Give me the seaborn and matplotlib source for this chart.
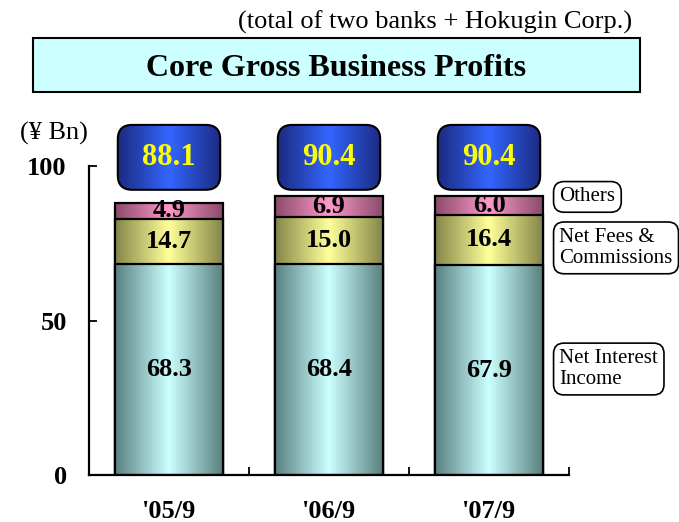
import numpy as np
import pandas as pd
import matplotlib.pyplot as plt
from matplotlib.colors import LinearSegmentedColormap
from matplotlib.patches import FancyBboxPatch, Rectangle
import seaborn as sns

# data (¥ Bn)
periods = ["'05/9", "'06/9", "'07/9"]
interest = [68.3, 68.4, 67.9]
fees = [14.7, 15.0, 16.4]
others = [4.9, 6.9, 6.0]
totals = [88.1, 90.4, 90.4]
series_names = ["Net Interest\nIncome", "Net Fees &\nCommissions", "Others"]

sns.set_style("ticks")
plt.rcParams["font.family"] = ["Liberation Serif", "DejaVu Serif"]
plt.rcParams["text.color"] = "black"
plt.rcParams["xtick.color"] = "black"
plt.rcParams["ytick.color"] = "black"

W, H = 679, 522
fig = plt.figure(figsize=(W / 100, H / 100), dpi=100)
ax = fig.add_axes([89 / W, 1 - 475 / H, 480 / W, 309 / H])

df = pd.DataFrame({"period": periods, "interest": interest, "fees": fees, "others": others})
df["lvl1"] = df["interest"]
df["lvl2"] = df["interest"] + df["fees"]
df["lvl3"] = df["lvl2"] + df["others"]

# (dark edge, light centre) for each segment
shades = {
    "lvl3": ("#8a4a6a", "#ff99cc"),
    "lvl2": ("#85854a", "#ffff99"),
    "lvl1": ("#5a8080", "#ccffff"),
}

grad = np.linspace(0, 1, 256).reshape(1, -1)
for k, col in enumerate(["lvl3", "lvl2", "lvl1"]):
    n0 = len(ax.patches)
    sns.barplot(data=df, x="period", y=col, color=shades[col][1], width=0.67,
                edgecolor="black", linewidth=1.6, ax=ax)
    cmap = LinearSegmentedColormap.from_list(col, [shades[col][0], shades[col][1], shades[col][0]])
    for p in ax.patches[n0:]:
        x0, y0, w, h = p.get_x(), p.get_y(), p.get_width(), p.get_height()
        im = ax.imshow(grad, cmap=cmap, extent=[x0, x0 + w, y0, y0 + h], aspect="auto",
                       interpolation="bicubic", zorder=2 + k)
        im.set_clip_path(p)
        p.set_facecolor("none")
        p.set_zorder(2.5 + k)

# segment values
for i in range(len(periods)):
    bottoms = [0, interest[i], interest[i] + fees[i]]
    for b, v in zip(bottoms, [interest[i], fees[i], others[i]]):
        ax.text(i, b + v / 2, f"{v:.1f}", ha="center", va="center", fontsize=19,
                fontweight="bold", zorder=10)

# total boxes
aspect = (160 / 1) / 3.09
bcmap = LinearSegmentedColormap.from_list("blue", ["#1c2a80", "#3366ff", "#1c2a80"])
for i, t in enumerate(totals):
    bx, by, bw, bh = i - 0.32, 92.3, 0.64, 21
    box = FancyBboxPatch((bx, by), bw, bh, boxstyle="round,pad=0,rounding_size=0.09",
                         mutation_aspect=aspect, facecolor="none", edgecolor="black",
                         linewidth=1.5, clip_on=False, zorder=12)
    ax.add_patch(box)
    im = ax.imshow(grad, cmap=bcmap, extent=[bx, bx + bw, by, by + bh], aspect="auto",
                   interpolation="bicubic", zorder=11)
    im.set_clip_box(fig.bbox)
    im.set_clip_path(box)
    ax.text(i, by + bh / 2, f"{t:.1f}", ha="center", va="center", fontsize=22,
            fontweight="bold", color="#ffff00", zorder=13, clip_on=False)

# series labels on the right
label_y = [34.3, 73.5, 90.0]
for name, y in zip(series_names, label_y):
    ax.text(2.44, y, name, ha="left", va="center", fontsize=15, linespacing=1.15,
            clip_on=False, zorder=12,
            bbox=dict(boxstyle="round,pad=0.28,rounding_size=0.5", facecolor="white",
                      edgecolor="black", linewidth=1.2))

ax.set_xlim(-0.5, 2.5)
ax.set_ylim(0, 100)
ax.set_xlabel("")
ax.set_ylabel("")
ax.set_yticks([0, 50, 100])
ax.set_yticklabels(["0", "50", "100"], fontsize=19, fontweight="bold")
ax.set_xticks(range(len(periods)))
ax.set_xticklabels(periods, fontsize=19, fontweight="bold")
ax.set_xticks([-0.5, 0.5, 1.5, 2.5], minor=True)
ax.tick_params(axis="x", which="major", length=0, pad=18)
ax.tick_params(axis="x", which="minor", direction="in", length=6, width=1.3, color="black")
ax.tick_params(axis="y", direction="in", length=6, width=1.3, color="black", pad=16)
sns.despine(ax=ax)
for s in ["left", "bottom"]:
    ax.spines[s].set_linewidth(1.6)
    ax.spines[s].set_color("black")
ax.spines["bottom"].set_zorder(8)

# headings
fig.patches.append(Rectangle((33 / W, 1 - 92 / H), 607 / W, 54 / H, transform=fig.transFigure,
                             facecolor="#ccffff", edgecolor="black", linewidth=1.5, figure=fig))
fig.text(336 / W, 1 - 68 / H, "Core Gross Business Profits", ha="center", va="center",
         fontsize=23, fontweight="bold")
fig.text(632 / W, 1 - 22 / H, "(total of two banks + Hokugin Corp.)", ha="right",
         va="center", fontsize=19)
fig.text(54 / W, 1 - 133 / H, "(¥ Bn)", ha="center", va="center", fontsize=19)

fig.savefig("out.png", dpi=100)
